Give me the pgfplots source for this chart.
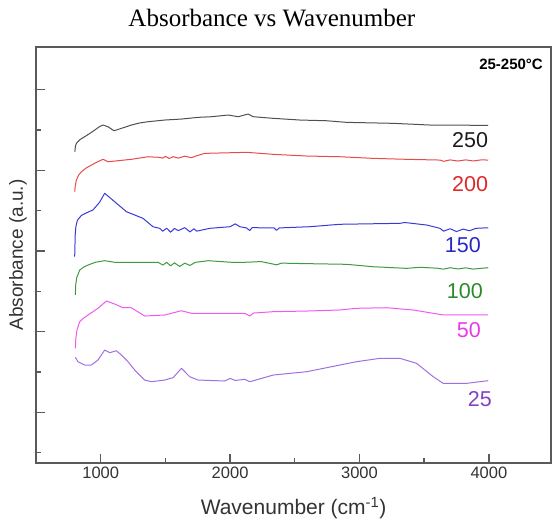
\documentclass[border=0pt]{standalone}
\usepackage{fontspec}
\setmainfont{Liberation Sans}
\newfontfamily\titlefont{Liberation Serif}
\usepackage{pgfplots}
\pgfplotsset{compat=1.18}

\definecolor{axgray}{HTML}{5A5A5A}
\definecolor{txtgray}{HTML}{333333}
\definecolor{c250}{HTML}{505050}
\definecolor{c200}{HTML}{E84A4A}
\definecolor{c150}{HTML}{3A3AD8}
\definecolor{c100}{HTML}{3E9A3E}
\definecolor{c50}{HTML}{EE5AEE}
\definecolor{c25}{HTML}{A070E0}
\definecolor{l250}{HTML}{1A1A1A}
\definecolor{l200}{HTML}{E02828}
\definecolor{l150}{HTML}{2828C8}
\definecolor{l100}{HTML}{2A8A2A}
\definecolor{l50}{HTML}{E838E8}
\definecolor{l25}{HTML}{8040C8}

\begin{document}
\begin{tikzpicture}
\begin{axis}[
  scale only axis, width=515pt, height=416pt,
  xmin=500, xmax=4480, ymin=0.372, ymax=5.527,
  axis line style={draw=axgray, line width=1.4pt},
  xtick={1000,2000,3000,4000}, minor xtick={1500,2500,3500},
  ytick={1,2,3,4,5}, minor ytick={0.5,1.5,2.5,3.5,4.5}, yticklabels={},
  tick align=inside, xtick pos=bottom, ytick pos=left,
  major tick length=8.5pt, minor tick length=4.5pt,
  tick style={draw=axgray, line width=1.4pt},
  scaled ticks=false,
  /pgf/number format/assume math mode=true,
  /pgf/number format/set thousands separator={},
  xticklabel style={font=\fontsize{16.5}{18}\selectfont, text=txtgray},
  xlabel={Wavenumber (cm\textsuperscript{-1})},
  xlabel style={at={(axis description cs:0.5,0)}, anchor=base, yshift=-52pt,
    font=\fontsize{21}{24}\selectfont, text=txtgray},
  ylabel={Absorbance (a.u.)},
  ylabel style={at={(axis description cs:-0.035,0.5)}, anchor=center, rotate=0,
    font=\fontsize{19}{22}\selectfont, text=txtgray},
  title={\titlefont\fontsize{25}{28}\selectfont Absorbance vs Wavenumber},
  title style={at={(axis description cs:0.458,1)}, anchor=base, yshift=14pt},
  every axis plot/.append style={line width=1pt, line join=round},
  clip=false,
]
% 250
\addplot[c250] table {
800 4.229
805 4.300
812 4.333
840 4.380
876 4.415
915 4.455
954 4.498
990 4.540
1018 4.560
1056 4.539
1103 4.489
1160 4.519
1237 4.560
1300 4.585
1366 4.601
1495 4.622
1624 4.634
1753 4.655
1856 4.663
1985 4.684
2062 4.663
2139 4.696
2178 4.663
2333 4.643
2539 4.622
2746 4.613
2900 4.593
3261 4.581
3544 4.560
3995 4.556
};
% 200
\addplot[c200] table {
799 3.734
803 3.800
812 3.879
830 3.940
851 3.981
890 4.030
928 4.064
970 4.100
1018 4.135
1056 4.105
1134 4.118
1237 4.135
1366 4.167
1450 4.160
1480 4.150
1500 4.172
1530 4.145
1560 4.168
1600 4.150
1650 4.174
1700 4.155
1740 4.178
1804 4.209
2011 4.217
2127 4.222
2333 4.197
2591 4.176
2848 4.167
3106 4.147
3364 4.135
3622 4.126
3650 4.110
3700 4.128
3760 4.114
3820 4.128
3880 4.115
3940 4.128
3995 4.126
};
% 150
\addplot[c150] table {
799 2.928
803 3.200
808 3.300
820 3.380
851 3.440
900 3.480
940 3.507
990 3.600
1031 3.714
1199 3.486
1327 3.404
1404 3.300
1456 3.280
1480 3.245
1510 3.282
1540 3.232
1570 3.278
1600 3.252
1650 3.288
1690 3.236
1720 3.274
1742 3.245
1843 3.280
2000 3.300
2040 3.335
2075 3.300
2127 3.285
2152 3.252
2170 3.288
2340 3.285
2359 3.255
2380 3.285
2616 3.300
2848 3.330
3312 3.342
3350 3.352
3519 3.321
3622 3.280
3650 3.245
3700 3.275
3750 3.240
3800 3.270
3850 3.250
3900 3.280
3995 3.287
};
% 100
\addplot[c100] table {
804 2.454
807 2.580
815 2.670
838 2.763
870 2.800
902 2.825
960 2.860
1031 2.879
1108 2.859
1237 2.859
1443 2.859
1480 2.825
1510 2.858
1540 2.815
1570 2.852
1610 2.808
1650 2.848
1690 2.820
1730 2.858
1830 2.879
2011 2.859
2114 2.859
2240 2.868
2359 2.828
2400 2.850
2462 2.846
2900 2.834
3106 2.804
3364 2.784
3467 2.797
3600 2.786
3650 2.774
3700 2.792
3760 2.776
3820 2.790
3880 2.775
3995 2.792
};
% 50
\addplot[c50] table {
804 1.793
808 1.920
818 2.030
838 2.123
870 2.170
902 2.206
979 2.289
1044 2.379
1108 2.342
1172 2.296
1237 2.296
1340 2.193
1495 2.206
1624 2.259
1701 2.227
1882 2.227
2114 2.227
2152 2.193
2180 2.230
2333 2.247
2591 2.255
2848 2.268
2977 2.289
3209 2.296
3415 2.268
3570 2.227
3647 2.206
3995 2.206
};
% 25
\addplot[c25] table {
804 1.682
824 1.627
876 1.586
928 1.586
979 1.648
1031 1.772
1070 1.739
1121 1.763
1160 1.710
1211 1.627
1263 1.524
1340 1.400
1392 1.379
1495 1.400
1560 1.430
1624 1.545
1688 1.441
1753 1.400
1959 1.388
2000 1.420
2040 1.395
2114 1.409
2152 1.379
2333 1.462
2591 1.503
2848 1.586
2977 1.627
3158 1.669
3312 1.669
3441 1.607
3570 1.441
3647 1.359
3827 1.359
3995 1.392
};
\begin{scope}[every node/.style={anchor=base east, inner sep=0pt, font=\fontsize{21.5}{24}\selectfont}]
\node[text=l250] at (axis cs:3995,4.287) {250};
\node[text=l200] at (axis cs:3995,3.734) {200};
\node[text=l150] at (axis cs:3939,2.986) {150};
\node[text=l100] at (axis cs:3954,2.416) {100};
\node[text=l50]  at (axis cs:3939,1.921) {50};
\node[text=l25]  at (axis cs:4024,1.066) {25};
\end{scope}
\node[anchor=base east, inner sep=0pt, font=\bfseries\fontsize{15}{17}\selectfont, text=black]
  at (rel axis cs:0.9845,0.9447) {25-250°C};
\end{axis}
\pgfresetboundingbox
\path[use as bounding box] (-36pt,-62pt) rectangle (516pt,463pt);
\end{tikzpicture}
\end{document}
